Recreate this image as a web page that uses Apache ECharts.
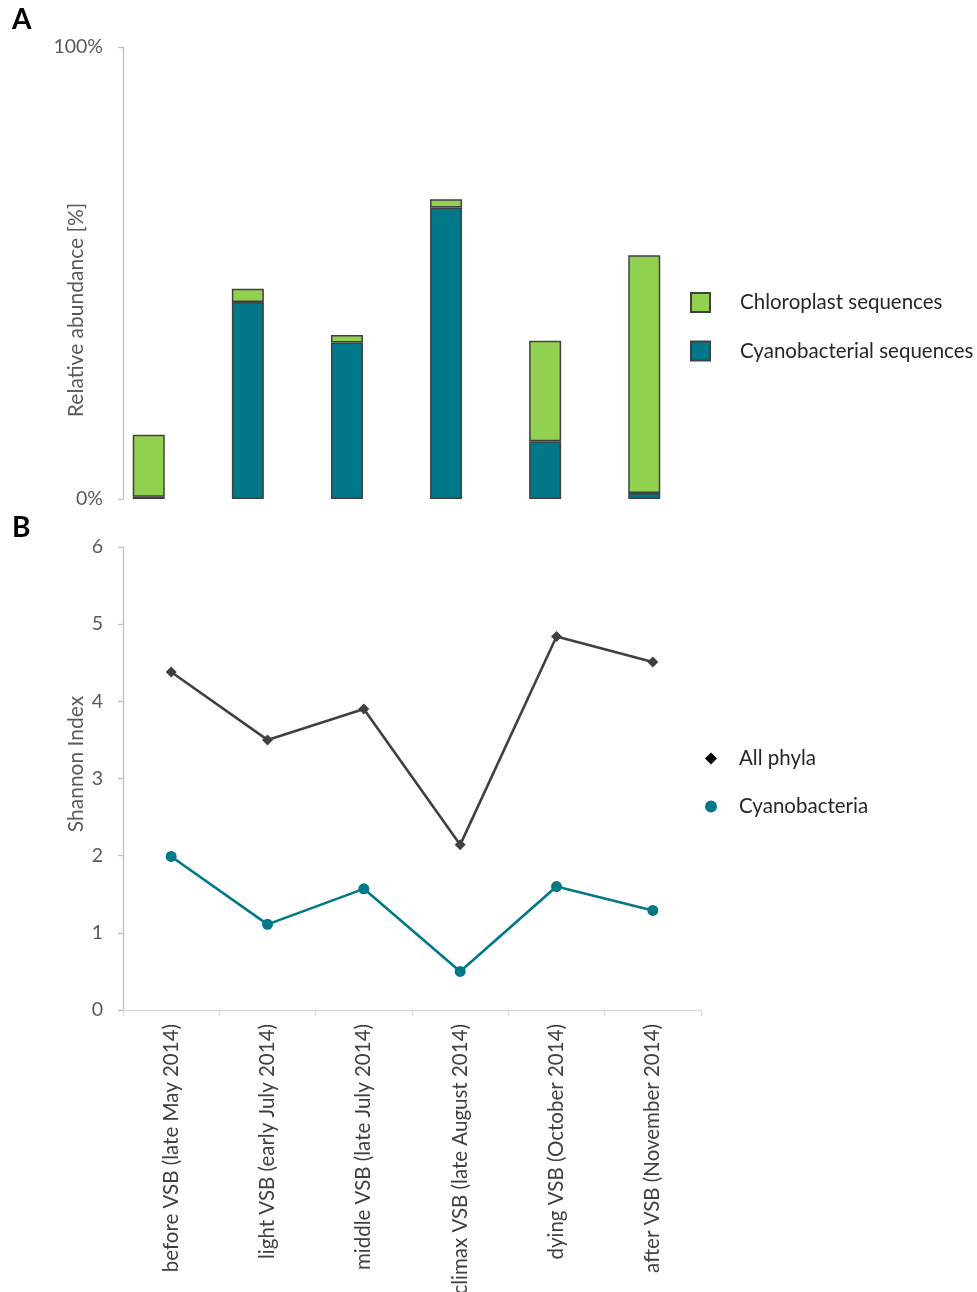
<!DOCTYPE html>
<html>
<head>
<meta charset="utf-8">
<script src="https://cdn.jsdelivr.net/npm/echarts@6/dist/echarts.min.js"></script>
<style>
  html, body { margin: 0; padding: 0; background: #fff; }
  #chart { width: 977px; height: 1292px; }
</style>
</head>
<body>
<div id="chart"></div>
<script>
// Sampling stages of the bloom
const categories = [
  'before VSB (late May 2014)',
  'light VSB (early July 2014)',
  'middle VSB (late July 2014)',
  'climax VSB (late August 2014)',
  'dying VSB (October 2014)',
  'after VSB (November 2014)'
];

// Panel A: relative abundance [%]
const cyanobacterialSeq = [0.5, 43.6, 34.6, 64.5, 12.8, 1.3];
const chloroplastSeq = [13.7, 2.9, 1.7, 1.8, 22.2, 52.6];

// Panel B: Shannon index
const allPhyla = [4.38, 3.50, 3.90, 2.14, 4.84, 4.51];
const cyanobacteria = [1.99, 1.11, 1.57, 0.50, 1.60, 1.29];

// Axis tick labels
const abundanceTicks = ['0%', '100%'];

const FONT = 'Lato, "Open Sans", sans-serif';
const GREEN = '#92D050';
const TEAL = '#00788A';
const DARK = '#404040';
const AXIS_GRAY = '#BFBFBF';
const LABEL_GRAY = '#595959';

const chart = echarts.init(document.getElementById('chart'), null, { renderer: 'canvas' });

const option = {
  animation: false,
  backgroundColor: '#ffffff',
  textStyle: { fontFamily: FONT },
  grid: [
    { left: 99.2, top: 47, width: 594.6, height: 452, containLabel: false, outerBoundsMode: 'none' },
    { left: 123, top: 547, width: 578, height: 463, containLabel: false, outerBoundsMode: 'none' }
  ],
  xAxis: [
    {
      gridIndex: 0, type: 'category', data: categories,
      axisLine: { show: false }, axisTick: { show: false }, axisLabel: { show: false }
    },
    {
      gridIndex: 1, type: 'category', data: categories, boundaryGap: true,
      axisLine: { show: true, lineStyle: { color: '#D9D9D9', width: 1.3 } },
      axisTick: { show: true, length: 6, lineStyle: { color: '#D9D9D9', width: 1.3 } },
      axisLabel: {
        rotate: 90, margin: 14, color: DARK, fontSize: 20.5, fontFamily: FONT
      }
    }
  ],
  yAxis: [
    {
      gridIndex: 0, type: 'value', min: 0, max: 100, interval: 100, offset: -23.8,
      axisLine: { show: true, lineStyle: { color: AXIS_GRAY, width: 1.3 } },
      axisTick: { show: true, length: 5, lineStyle: { color: AXIS_GRAY, width: 1.3 } },
      splitLine: { show: false },
      axisLabel: {
        margin: 20, color: LABEL_GRAY, fontSize: 19.5, fontFamily: FONT,
        formatter: function (v) { return v === 0 ? abundanceTicks[0] : abundanceTicks[1]; }
      }
    },
    {
      gridIndex: 1, type: 'value', min: 0, max: 6, interval: 1,
      axisLine: { show: true, lineStyle: { color: AXIS_GRAY, width: 1.3 } },
      axisTick: { show: true, length: 5, lineStyle: { color: AXIS_GRAY, width: 1.3 } },
      splitLine: { show: false },
      axisLabel: { margin: 20, color: LABEL_GRAY, fontSize: 19.5, fontFamily: FONT }
    }
  ],
  legend: [
    {
      orient: 'vertical', left: 690, top: 292, padding: 0,
      itemWidth: 19, itemHeight: 19, itemGap: 27.5,
      icon: 'rect',
      data: ['Chloroplast sequences', 'Cyanobacterial sequences'],
      textStyle: { fontSize: 20.5, lineHeight: 20, color: '#262626', fontFamily: FONT, padding: [0, 0, 0, 25] }
    },
    {
      orient: 'vertical', left: 705, top: 748, padding: 0,
      itemWidth: 12, itemHeight: 12, itemGap: 27,
      data: [
        { name: 'All phyla', icon: 'diamond', itemStyle: { color: '#000000', borderWidth: 0 } },
        { name: 'Cyanobacteria', icon: 'circle', itemStyle: { color: TEAL, borderWidth: 0 } }
      ],
      textStyle: { fontSize: 20.5, lineHeight: 20, color: '#262626', fontFamily: FONT, padding: [0, 0, 0, 17] }
    }
  ],
  graphic: [
    { type: 'text', left: 12, top: 6, style: { text: 'A', font: 'bold 28px ' + FONT, fill: '#000' } },
    { type: 'text', left: 12, top: 514, style: { text: 'B', font: 'bold 28px ' + FONT, fill: '#000' } },
    {
      type: 'text', x: 76, y: 310, rotation: Math.PI / 2,
      style: { text: 'Relative abundance [%]', font: '21px ' + FONT, fill: LABEL_GRAY, align: 'center', verticalAlign: 'middle' }
    },
    {
      type: 'text', x: 76, y: 764, rotation: Math.PI / 2,
      style: { text: 'Shannon Index', font: '21px ' + FONT, fill: LABEL_GRAY, align: 'center', verticalAlign: 'middle' }
    }
  ],
  series: [
    {
      name: 'Cyanobacterial sequences', type: 'bar', stack: 'abundance',
      xAxisIndex: 0, yAxisIndex: 0, barWidth: 32,
      data: cyanobacterialSeq,
      itemStyle: { color: TEAL, borderColor: DARK, borderWidth: 1.5 }
    },
    {
      name: 'Chloroplast sequences', type: 'bar', stack: 'abundance',
      xAxisIndex: 0, yAxisIndex: 0, barWidth: 32,
      data: chloroplastSeq,
      itemStyle: { color: GREEN, borderColor: DARK, borderWidth: 1.5 }
    },
    {
      name: 'All phyla', type: 'line', xAxisIndex: 1, yAxisIndex: 1,
      data: allPhyla, symbol: 'diamond', symbolSize: 11,
      lineStyle: { color: DARK, width: 2.6 },
      itemStyle: { color: DARK }
    },
    {
      name: 'Cyanobacteria', type: 'line', xAxisIndex: 1, yAxisIndex: 1,
      data: cyanobacteria, symbol: 'circle', symbolSize: 11,
      lineStyle: { color: TEAL, width: 2.6 },
      itemStyle: { color: TEAL }
    }
  ]
};

chart.setOption(option);
</script>
</body>
</html>
